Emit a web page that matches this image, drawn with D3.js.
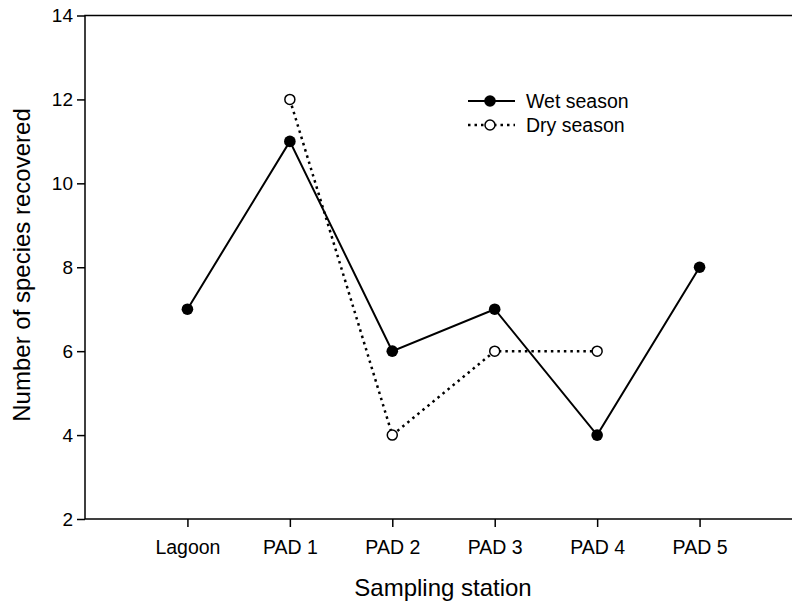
<!DOCTYPE html>
<html><head><meta charset="utf-8">
<script src="https://cdn.jsdelivr.net/npm/d3@7"></script>
<style>body{margin:0;background:#fff}svg{display:block}text{font-family:"Liberation Sans",Arial,sans-serif}</style>
</head><body><svg width="792" height="603"></svg>
<script>
const categories = ["Lagoon","PAD 1","PAD 2","PAD 3","PAD 4","PAD 5"];
const wetSeason = [7, 11, 6, 7, 4, 8];
const drySeason = [null, 12, 4, 6, 6, null];
const yTicks = [2,4,6,8,10,12,14];

const svg = d3.select("svg");
const pLeft = 85, pRight = 802, pTop = 15.5, pBottom = 519;
const x = d3.scaleLinear().domain([-1, 6]).range([pLeft, pRight]);
const y = d3.scaleLinear().domain([2, 14]).range([pBottom, pTop]);

// frame
svg.append("rect").attr("x", pLeft).attr("y", pTop).attr("width", pRight-pLeft).attr("height", pBottom-pTop)
  .attr("fill","none").attr("stroke","#000").attr("stroke-width",1.5);

const yAxis = d3.axisLeft(y).tickValues(yTicks).tickSize(8).tickPadding(4).tickFormat(d3.format("d"));
const gy = svg.append("g").attr("transform",`translate(${pLeft},0)`).call(yAxis);
gy.select(".domain").remove();
gy.selectAll("line").attr("stroke-width",1.5);
gy.selectAll("text").attr("font-size",19).attr("fill","#000");

const xAxis = d3.axisBottom(x).tickValues(d3.range(categories.length)).tickSize(8).tickPadding(13)
  .tickFormat(i => categories[i]);
const gx = svg.append("g").attr("transform",`translate(0,${pBottom})`).call(xAxis);
gx.select(".domain").remove();
gx.selectAll("line").attr("stroke-width",1.5);
gx.selectAll("text").attr("font-size",19.5).attr("fill","#000");

// titles
svg.append("text").attr("x", 443).attr("y", 596).attr("text-anchor","middle").attr("font-size",24).text("Sampling station");
svg.append("text").attr("transform","translate(30,265) rotate(-90)").attr("text-anchor","middle").attr("font-size",24).text("Number of species recovered");

const line = d3.line().defined(d => d[1] != null).x(d => x(d[0])).y(d => y(d[1]));
const wetPts = wetSeason.map((v,i)=>[i,v]);
const dryPts = drySeason.map((v,i)=>[i,v]).filter(d=>d[1]!=null);

svg.append("path").datum(wetPts).attr("d", line).attr("fill","none").attr("stroke","#000").attr("stroke-width",2);
svg.append("path").datum(dryPts).attr("d", line).attr("fill","none").attr("stroke","#000").attr("stroke-width",2.5).attr("stroke-dasharray","2.5,4");

svg.selectAll(".dry").data(dryPts).join("circle").attr("cx",d=>x(d[0])).attr("cy",d=>y(d[1])).attr("r",5)
  .attr("fill","#fff").attr("stroke","#000").attr("stroke-width",1.5);
svg.selectAll(".wet").data(wetPts).join("circle").attr("cx",d=>x(d[0])).attr("cy",d=>y(d[1])).attr("r",5.8)
  .attr("fill","#000");

// legend
const lg = svg.append("g");
lg.append("line").attr("x1",468).attr("x2",515).attr("y1",101).attr("y2",101).attr("stroke","#000").attr("stroke-width",2);
lg.append("circle").attr("cx",490).attr("cy",101).attr("r",5.8).attr("fill","#000");
lg.append("text").attr("x",526).attr("y",107.5).attr("font-size",19.5).text("Wet season");
lg.append("line").attr("x1",468).attr("x2",515).attr("y1",125).attr("y2",125).attr("stroke","#000").attr("stroke-width",2.5).attr("stroke-dasharray","2.5,4");
lg.append("circle").attr("cx",490).attr("cy",125).attr("r",5).attr("fill","#fff").attr("stroke","#000").attr("stroke-width",1.5);
lg.append("text").attr("x",526).attr("y",132).attr("font-size",19.5).text("Dry season");
</script></body></html>
